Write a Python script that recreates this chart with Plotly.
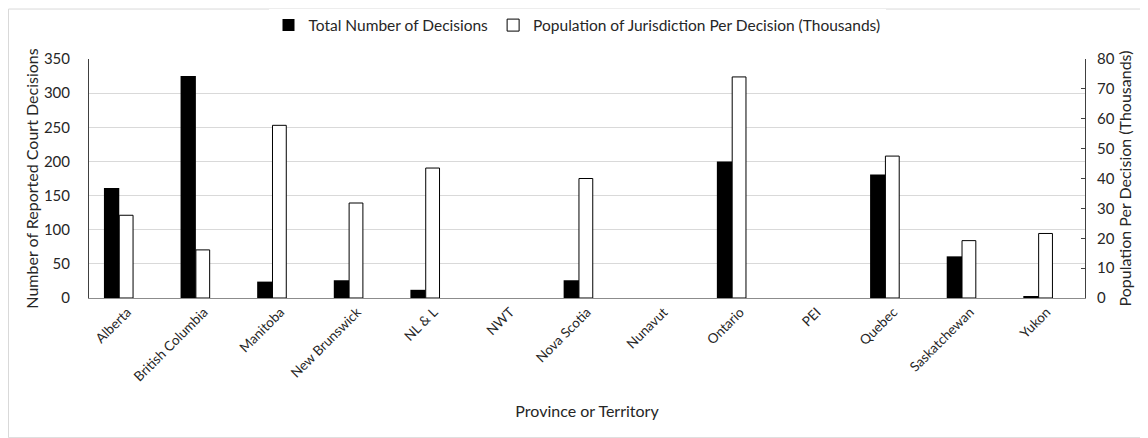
import plotly.graph_objects as go

categories = ["Alberta", "British Columbia", "Manitoba", "New Brunswick", "NL & L", "NWT",
              "Nova Scotia", "Nunavut", "Ontario", "PEI", "Quebec", "Saskatchewan", "Yukon"]
decisions = [161, 325, 24, 26, 12, None, 26, None, 200, None, 181, 61, 2]
pop_per_decision = [27.7, 16.1, 57.8, 31.8, 43.5, None, 40.0, None, 74.0, None, 47.5, 19.2, 21.6]

# page body has an 8px default margin, so the figure is drawn 8px smaller and offset
OFF = 8
W, H = 1148 - OFF, 438 - OFF
L, R, T, B = 89 - OFF, 1085 - OFF, 58.5 - OFF, 297.7 - OFF
pw, ph = R - L, B - T

def px(x):
    return (x - L) / pw

def py(y):
    return (B - y) / ph

FONT = "Lato"
TXT = "#262626"

fig = go.Figure()
fig.add_trace(go.Bar(
    x=categories, y=decisions, name="Total Number of Decisions",
    marker=dict(color="black", line=dict(color="black", width=0)),
    width=0.2, offset=-0.305, yaxis="y",
))
fig.add_trace(go.Bar(
    x=categories, y=pop_per_decision, name="Population of Jurisdiction Per Decision (Thousands)",
    marker=dict(color="white", line=dict(color="black", width=1)),
    width=0.18, offset=-0.105, yaxis="y2",
))

fig.update_layout(
    width=W, height=H,
    margin=dict(l=L, r=W - R, t=T, b=H - B, pad=0, autoexpand=False),
    paper_bgcolor="white", plot_bgcolor="white",
    font=dict(family=FONT, size=14, color=TXT),
    showlegend=True,
    legend=dict(orientation="h", x=px((L + R) / 2 - 10), xanchor="center", y=py(25 - OFF), yanchor="middle",
                font=dict(size=15.5, color=TXT), traceorder="normal", itemwidth=30,
                tracegroupgap=0),
    xaxis=dict(
        type="category", range=[-0.5, 12.5], automargin=False,
        showline=True, linecolor="#8c8c8c", linewidth=1,
        ticks="", tickangle=-45, tickfont=dict(size=13.5, color=TXT),
        title=dict(text="Province or Territory", font=dict(size=16, color=TXT), standoff=22),
        showgrid=False, zeroline=False,
    ),
    yaxis=dict(
        range=[0, 350], dtick=50, tick0=0, automargin=False,
        showgrid=True, gridcolor="#d9d9d9", gridwidth=1,
        showline=True, linecolor="#404040", linewidth=1,
        ticks="", ticklabelstandoff=15, tickfont=dict(size=15, color=TXT),
        title=dict(text="Number of Reported Court Decisions", font=dict(size=16, color=TXT), standoff=1),
        zeroline=False,
    ),
    yaxis2=dict(
        range=[0, 80], dtick=10, tick0=0, overlaying="y", side="right", automargin=False,
        showgrid=False, showline=True, linecolor="#404040", linewidth=1,
        ticks="inside", ticklen=4, tickcolor="#404040", ticklabelstandoff=8,
        tickfont=dict(size=15, color=TXT),
        title=dict(text="Population Per Decision (Thousands)", font=dict(size=16, color=TXT), standoff=6),
        zeroline=False,
    ),
    shapes=[dict(type="rect", xref="paper", yref="paper",
                 x0=px(0.5), x1=px(W - 0.5), y0=py(H - 0.5), y1=py(0.5),
                 line=dict(color="#d9d9d9", width=1), fillcolor="rgba(0,0,0,0)", layer="below")],
)

fig.write_html("out.html")
